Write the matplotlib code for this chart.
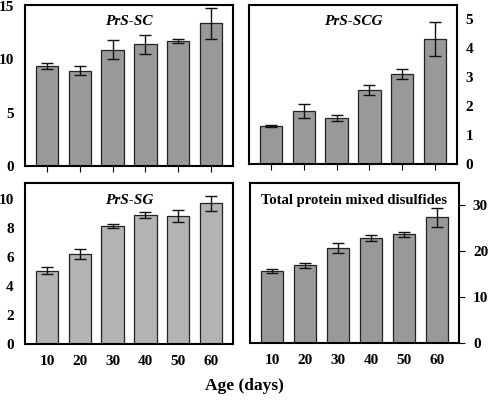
import matplotlib
matplotlib.use("Agg")
import matplotlib.pyplot as plt
import numpy as np

ages = ["10", "20", "30", "40", "50", "60"]

prs_sc = [9.4, 8.95, 10.9, 11.4, 11.7, 13.4]
prs_sc_err = [0.3, 0.4, 0.9, 0.9, 0.2, 1.45]

prs_scg = [1.31, 1.83, 1.58, 2.55, 3.11, 4.33]
prs_scg_err = [0.04, 0.23, 0.1, 0.17, 0.17, 0.59]

prs_sg = [5.05, 6.2, 8.15, 8.9, 8.8, 9.7]
prs_sg_err = [0.23, 0.35, 0.12, 0.18, 0.41, 0.5]

total = [15.7, 16.9, 20.6, 22.8, 23.6, 27.3]
total_err = [0.4, 0.6, 1.1, 0.7, 0.55, 2.15]

plt.rcParams['font.family'] = ['Liberation Serif', 'DejaVu Serif']
plt.rcParams['font.weight'] = 'bold'

fig = plt.figure(figsize=(4.88, 4.0), dpi=100)

panels = [
    # rect, values, errs, ylim, yticks, color, title, italic, side, xlabels
    ([0.0512, 0.585, 0.4263, 0.4025], prs_sc, prs_sc_err, 15.1, [0, 5, 10, 15], '#999999', 'PrS-SC', True, 'left', False),
    ([0.510, 0.590, 0.4265, 0.3975], prs_scg, prs_scg_err, 5.5, [0, 1, 2, 3, 4, 5], '#999999', 'PrS-SCG', True, 'right', False),
    ([0.0512, 0.140, 0.4263, 0.4025], prs_sg, prs_sg_err, 11.1, [0, 2, 4, 6, 8, 10], '#b3b3b3', 'PrS-SG', True, 'left', True),
    ([0.512, 0.1425, 0.4286, 0.400], total, total_err, 34.8, [0, 10, 20, 30], '#999999', 'Total protein mixed disulfides', False, 'right', True),
]

x = np.arange(len(ages))
for rect, vals, errs, ytop, yt, col, title, ital, side, xl in panels:
    ax = fig.add_axes(rect)
    ax.bar(x, vals, width=0.68, color=col, edgecolor='#222222', linewidth=0.9,
           yerr=errs, capsize=4.2, error_kw=dict(ecolor='#111111', elinewidth=1.0, capthick=1.0))
    ax.set_xlim(-0.67, 5.67)
    ax.set_ylim(0, ytop)
    ax.set_yticks(yt)
    ax.set_yticklabels([str(v) for v in yt], fontsize=11, fontweight='bold')
    for s in ax.spines.values():
        s.set_linewidth(1.5)
    ax.set_xticks(x)
    if xl:
        ax.set_xticklabels(ages, fontsize=11, fontweight='bold')
        ax.tick_params(axis='x', length=0, pad=8)
    else:
        ax.set_xticklabels([])
        ax.tick_params(axis='x', length=4, width=0.8, direction='out')
    if side == 'right':
        ax.yaxis.tick_right()
        ax.tick_params(axis='y', length=4 if xl else 0, width=0.8, pad=6)
    else:
        ax.tick_params(axis='y', length=0, pad=8)
    ax.text(0.5, 0.94 if not xl else 0.93, title, transform=ax.transAxes, ha='center', va='top',
            fontsize=11 if ital else 10.5, fontweight='bold', style='italic' if ital else 'normal')

fig.text(0.5, 0.035, 'Age (days)', ha='center', va='center', fontsize=12.5, fontweight='bold')

fig.savefig('out.png', dpi=100)
